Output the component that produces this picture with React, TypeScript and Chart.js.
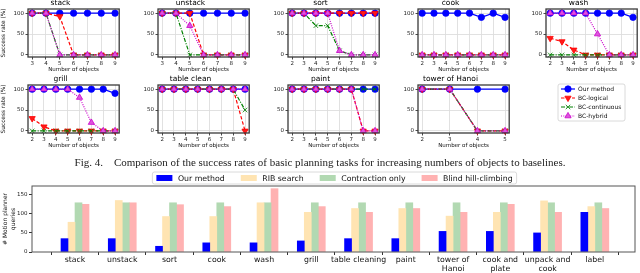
import React, { useEffect, useRef } from 'react';
import { Chart, registerables } from 'chart.js';

Chart.register(...registerables);

const FONT = "'DejaVu Sans', sans-serif";

// ---------------- line panels: success rate (%) ----------------
const seriesNames = ['Our method', 'BC-logical', 'BC-continuous', 'BC-hybrid'];
const successTicks = [0, 50, 100];

const stackObjects = [3, 4, 5, 6, 7, 8, 9];
const stackOurMethod = [100, 100, 100, 100, 100, 100, 100];
const stackBCLogical = [100, 100, 92, 0, 0, 0, 0];
const stackBCContinuous = [100, 100, 0, 0, 0, 0, 0];
const stackBCHybrid = [100, 100, 0, 0, 0, 0, 0];

const unstackObjects = [3, 4, 5, 6, 7, 8, 9];
const unstackOurMethod = [100, 100, 100, 100, 100, 100, 100];
const unstackBCLogical = [100, 100, 100, 0, 0, 0, 0];
const unstackBCContinuous = [100, 100, 0, 0, 0, 0, 0];
const unstackBCHybrid = [100, 100, 70, 0, 0, 0, 0];

const sortObjects = [2, 3, 4, 5, 6, 7, 8, 9];
const sortOurMethod = [100, 100, 100, 100, 100, 100, 100, 100];
const sortBCLogical = [100, 100, 100, 100, 100, 100, 100, 100];
const sortBCContinuous = [100, 100, 70, 70, 10, 0, 0, 0];
const sortBCHybrid = [100, 100, 100, 100, 10, 0, 0, 0];

const cookObjects = [2, 3, 4, 5, 6, 7, 8, 9];
const cookOurMethod = [100, 100, 100, 100, 100, 90, 100, 90];
const cookBCLogical = [0, 0, 0, 0, 0, 0, 0, 0];
const cookBCContinuous = [0, 0, 0, 0, 0, 0, 0, 0];
const cookBCHybrid = [0, 0, 0, 0, 0, 0, 0, 0];

const washObjects = [2, 3, 4, 5, 6, 7, 8, 9];
const washOurMethod = [100, 100, 100, 100, 100, 100, 100, 90];
const washBCLogical = [40, 32, 12, 0, 0, 0, 0, 0];
const washBCContinuous = [0, 0, 0, 0, 0, 0, 0, 0];
const washBCHybrid = [100, 100, 100, 100, 50, 0, 0, 0];

const grillObjects = [2, 3, 4, 5, 6, 7, 8, 9];
const grillOurMethod = [100, 100, 100, 100, 100, 100, 100, 90];
const grillBCLogical = [30, 10, 0, 0, 0, 0, 0, 0];
const grillBCContinuous = [0, 0, 0, 0, 0, 0, 0, 0];
const grillBCHybrid = [100, 100, 100, 100, 80, 20, 0, 0];

const tableCleanObjects = [2, 3, 4, 5, 6, 7, 8, 9];
const tableCleanOurMethod = [100, 100, 100, 100, 100, 100, 100, 100];
const tableCleanBCLogical = [100, 100, 100, 100, 100, 100, 100, 0];
const tableCleanBCContinuous = [100, 100, 100, 100, 100, 100, 100, 50];
const tableCleanBCHybrid = [100, 100, 100, 100, 100, 100, 100, 100];

const paintObjects = [2, 3, 4, 5, 6, 7, 8, 9];
const paintOurMethod = [100, 100, 100, 100, 100, 100, 100, 100];
const paintBCLogical = [100, 100, 100, 100, 100, 100, 0, 0];
const paintBCContinuous = [100, 100, 100, 100, 100, 100, 100, 100];
const paintBCHybrid = [100, 100, 100, 100, 100, 100, 0, 0];

const hanoiObjects = [2, 3, 4, 5];
const hanoiOurMethod = [100, 100, 100, 100];
const hanoiBCLogical = [100, 100, 0, 0];
const hanoiBCContinuous = [100, 100, 0, 0];
const hanoiBCHybrid = [100, 100, 0, 0];

const panels = [
  { title: 'stack', xs: stackObjects, series: [stackOurMethod, stackBCLogical, stackBCContinuous, stackBCHybrid] },
  { title: 'unstack', xs: unstackObjects, series: [unstackOurMethod, unstackBCLogical, unstackBCContinuous, unstackBCHybrid] },
  { title: 'sort', xs: sortObjects, series: [sortOurMethod, sortBCLogical, sortBCContinuous, sortBCHybrid] },
  { title: 'cook', xs: cookObjects, series: [cookOurMethod, cookBCLogical, cookBCContinuous, cookBCHybrid] },
  { title: 'wash', xs: washObjects, series: [washOurMethod, washBCLogical, washBCContinuous, washBCHybrid] },
  { title: 'grill', xs: grillObjects, series: [grillOurMethod, grillBCLogical, grillBCContinuous, grillBCHybrid] },
  { title: 'table clean', xs: tableCleanObjects, series: [tableCleanOurMethod, tableCleanBCLogical, tableCleanBCContinuous, tableCleanBCHybrid] },
  { title: 'paint', xs: paintObjects, series: [paintOurMethod, paintBCLogical, paintBCContinuous, paintBCHybrid] },
  { title: 'tower of Hanoi', xs: hanoiObjects, series: [hanoiOurMethod, hanoiBCLogical, hanoiBCContinuous, hanoiBCHybrid] },
];

// ---------------- bar chart: motion planner queries ----------------
const barCategories = ['stack', 'unstack', 'sort', 'cook', 'wash', 'grill', 'table cleaning', 'paint', 'tower of\nHanoi', 'cook and\nplate', 'unpack and\ncook', 'label'];
const barSeriesNames = ['Our method', 'RIB search', 'Contraction only', 'Blind hill-climbing'];
const ourMethodQueries = [35, 35, 15, 24, 24, 29, 35, 35, 54, 54, 50, 104];
const ribSearchQueries = [78, 135, 93, 93, 129, 104, 114, 114, 94, 104, 134, 119];
const contractionOnlyQueries = [129, 129, 129, 129, 129, 129, 129, 129, 129, 129, 129, 129];
const blindHillClimbingQueries = [125, 129, 124, 119, 166, 119, 104, 114, 104, 125, 104, 114];
const queryTicks = [0, 50, 100, 150];

// ---------------- styles ----------------
const seriesStyles = [
  { color: '#0000ff', fill: '#0000ff', dash: [] as number[], point: 'circle', rot: 0, r: 3.2 },
  { color: '#ff0000', fill: '#ff1a1a', dash: [3.5, 2], point: 'triangle', rot: 180, r: 3.6 },
  { color: '#008000', fill: '#008000', dash: [4, 1.5, 1, 1.5], point: 'crossRot', rot: 0, r: 3.2 },
  { color: '#cc00cc', fill: '#dd55dd', dash: [1, 1.3], point: 'triangle', rot: 0, r: 3.6 },
];
const barColors = ['#0000ff', '#ffe4b2', '#b2d9b2', '#ffb2b2'];

const framePlugin = {
  id: 'frame',
  afterDatasetsDraw(chart: any, _args: any, opts: any) {
    const { ctx, chartArea: a } = chart;
    ctx.save();
    ctx.strokeStyle = opts.color || '#333';
    ctx.lineWidth = opts.width || 1.3;
    ctx.strokeRect(a.left, a.top, a.right - a.left, a.bottom - a.top);
    ctx.restore();
  },
};

function roundRect(ctx: CanvasRenderingContext2D, x: number, y: number, w: number, h: number, r: number) {
  ctx.beginPath();
  ctx.moveTo(x + r, y);
  ctx.lineTo(x + w - r, y);
  ctx.quadraticCurveTo(x + w, y, x + w, y + r);
  ctx.lineTo(x + w, y + h - r);
  ctx.quadraticCurveTo(x + w, y + h, x + w - r, y + h);
  ctx.lineTo(x + r, y + h);
  ctx.quadraticCurveTo(x, y + h, x, y + h - r);
  ctx.lineTo(x, y + r);
  ctx.quadraticCurveTo(x, y, x + r, y);
  ctx.closePath();
}

function drawMarker(ctx: CanvasRenderingContext2D, s: any, x: number, y: number) {
  const r = s.r;
  ctx.beginPath();
  if (s.point === 'circle') {
    ctx.arc(x, y, r, 0, Math.PI * 2);
    ctx.fill();
    ctx.stroke();
  } else if (s.point === 'triangle') {
    let rad = (s.rot * Math.PI) / 180;
    for (let k = 0; k < 3; k++) {
      const px = x + Math.sin(rad) * r;
      const py = y - Math.cos(rad) * r;
      if (k === 0) ctx.moveTo(px, py);
      else ctx.lineTo(px, py);
      rad += (2 * Math.PI) / 3;
    }
    ctx.closePath();
    ctx.fill();
    ctx.stroke();
  } else {
    const d = r * Math.SQRT1_2;
    ctx.moveTo(x - d, y - d);
    ctx.lineTo(x + d, y + d);
    ctx.moveTo(x + d, y - d);
    ctx.lineTo(x - d, y + d);
    ctx.stroke();
  }
}

const lineLegendPlugin = {
  id: 'lineLegend',
  afterDraw(chart: any, _args: any, opts: any) {
    const { ctx } = chart;
    ctx.save();
    roundRect(ctx, opts.left, opts.top, opts.width, opts.height, 2);
    ctx.fillStyle = 'rgba(255,255,255,0.9)';
    ctx.fill();
    ctx.strokeStyle = '#d0d0d0';
    ctx.lineWidth = 0.8;
    ctx.stroke();
    ctx.font = `${opts.size}px ${FONT}`;
    ctx.textBaseline = 'middle';
    seriesNames.forEach((name, i) => {
      const s = seriesStyles[i];
      const y = opts.top + 5 + i * 9;
      const x0 = opts.left + 3;
      ctx.strokeStyle = s.color;
      ctx.lineWidth = 1.2;
      ctx.setLineDash(s.dash);
      ctx.beginPath();
      ctx.moveTo(x0, y);
      ctx.lineTo(x0 + 14, y);
      ctx.stroke();
      ctx.setLineDash([]);
      ctx.fillStyle = s.fill;
      ctx.lineWidth = 0.8;
      drawMarker(ctx, s, x0 + 7, y);
      ctx.fillStyle = '#111';
      ctx.fillText(name, x0 + 17, y + 0.5);
    });
    ctx.restore();
  },
};

const barLegendPlugin = {
  id: 'barLegend',
  afterDraw(chart: any, _args: any, opts: any) {
    const { ctx, chartArea: a } = chart;
    const ds = chart.data.datasets;
    ctx.save();
    ctx.font = `${opts.size}px ${FONT}`;
    const sw = 16, sh = 6, gap = 5.5, col = 16, pad = 4;
    const widths = ds.map((d: any) => ctx.measureText(d.label).width);
    const total = ds.length * (sw + gap) + widths.reduce((s: number, w: number) => s + w, 0) + (ds.length - 1) * col + 2 * pad;
    const cx = (a.left + a.right) / 2 + 1;
    const x0 = cx - total / 2;
    roundRect(ctx, x0, opts.top, total, opts.height, 2);
    ctx.fillStyle = 'rgba(255,255,255,0.9)';
    ctx.fill();
    ctx.strokeStyle = '#d0d0d0';
    ctx.lineWidth = 0.8;
    ctx.stroke();
    const yc = opts.top + opts.height / 2;
    let x = x0 + pad;
    ctx.textBaseline = 'middle';
    ds.forEach((d: any, i: number) => {
      ctx.fillStyle = d.backgroundColor;
      ctx.fillRect(x, yc - sh / 2, sw, sh);
      x += sw + gap;
      ctx.fillStyle = '#111';
      ctx.fillText(d.label, x, yc + 0.5);
      x += widths[i] + col;
    });
    ctx.restore();
  },
};

const PANEL_W = 124;
const PANEL_H = 77;
const colLefts = [0, 130, 260, 390, 518];
const rowTops = [-2, 74];

function LinePanel({ panel, left, top, showYTitle }: any) {
  const ref = useRef<HTMLCanvasElement>(null);
  useEffect(() => {
    const xs: number[] = panel.xs;
    const xmin = xs[0];
    const xmax = xs[xs.length - 1];
    const m = (xmax - xmin) * 0.05;
    const chart = new Chart(ref.current!, {
      type: 'line',
      data: {
        datasets: panel.series.map((vals: number[], k: number) => {
          const s = seriesStyles[k];
          return {
            label: seriesNames[k],
            data: vals.map((v, i) => ({ x: xs[i], y: v })),
            borderColor: s.color,
            backgroundColor: s.fill,
            borderDash: s.dash,
            borderWidth: 1.2,
            pointStyle: s.point,
            pointRotation: s.rot,
            pointRadius: s.r,
            pointBorderColor: s.color,
            pointBackgroundColor: s.fill,
            pointBorderWidth: 0.8,
            order: 4 - k,
            tension: 0,
            fill: false,
            clip: 2,
          };
        }),
      },
      options: {
        animation: false,
        responsive: false,
        layout: { padding: { right: 3, left: 0, top: 0, bottom: 0 } },
        plugins: {
          legend: { display: false },
          tooltip: { enabled: false },
          title: {
            display: true,
            text: panel.title,
            color: '#000',
            padding: 0,
            font: { family: FONT, size: 7.5, weight: 'normal', lineHeight: 11 / 7.5 },
          },
          frame: { color: '#3a3a3a', width: 1.3 },
        } as any,
        scales: {
          x: {
            type: 'linear',
            min: xmin - m,
            max: xmax + m,
            afterBuildTicks: (s: any) => {
              s.ticks = xs.map((v) => ({ value: v }));
            },
            afterFit: (s: any) => {
              s.height = 18;
            },
            ticks: { font: { family: FONT, size: 5.5 }, color: '#222', padding: 1, maxRotation: 0, autoSkip: false },
            grid: { color: '#dedede', lineWidth: 0.9, tickColor: '#333', tickLength: 2.5, drawTicks: true },
            border: { display: false },
            title: {
              display: true,
              text: 'Number of objects',
              color: '#111',
              font: { family: FONT, size: 5.5 },
              padding: { top: 0, bottom: 2.5 },
            },
          },
          y: {
            type: 'linear',
            min: -5,
            max: 110,
            afterBuildTicks: (s: any) => {
              s.ticks = successTicks.map((v) => ({ value: v }));
            },
            afterFit: (s: any) => {
              s.width = 28;
            },
            ticks: { font: { family: FONT, size: 5.5 }, color: '#222', padding: 1.5, autoSkip: false },
            grid: { color: '#dedede', lineWidth: 0.9, tickColor: '#333', tickLength: 2.5, drawTicks: true },
            border: { display: false },
            title: {
              display: showYTitle,
              text: 'Success rate (%)',
              color: '#111',
              font: { family: FONT, size: 5.8 },
              padding: { top: 0, bottom: 0 },
            },
          },
        },
      } as any,
      plugins: [framePlugin],
    });
    return () => chart.destroy();
  }, []);
  return (
    <canvas
      ref={ref}
      width={PANEL_W}
      height={PANEL_H}
      style={{ position: 'absolute', left, top, width: PANEL_W, height: PANEL_H }}
    />
  );
}

function LegendPanel({ left, top }: any) {
  const ref = useRef<HTMLCanvasElement>(null);
  useEffect(() => {
    const chart = new Chart(ref.current!, {
      type: 'line',
      data: {
        datasets: seriesNames.map((n, k) => ({ label: n, data: [], borderColor: seriesStyles[k].color })),
      },
      options: {
        animation: false,
        responsive: false,
        plugins: {
          legend: { display: false },
          tooltip: { enabled: false },
          lineLegend: { left: 40, top: 10, width: 67, height: 37, size: 6 },
        } as any,
        scales: { x: { display: false }, y: { display: false } },
      } as any,
      plugins: [lineLegendPlugin],
    });
    return () => chart.destroy();
  }, []);
  return (
    <canvas
      ref={ref}
      width={PANEL_W}
      height={PANEL_H}
      style={{ position: 'absolute', left, top, width: PANEL_W, height: PANEL_H }}
    />
  );
}

function BarPanel() {
  const ref = useRef<HTMLCanvasElement>(null);
  useEffect(() => {
    const allSeries = [ourMethodQueries, ribSearchQueries, contractionOnlyQueries, blindHillClimbingQueries];
    const chart = new Chart(ref.current!, {
      type: 'bar',
      data: {
        datasets: allSeries.map((vals, k) => ({
          label: barSeriesNames[k],
          data: vals.map((v, i) => ({ x: i, y: v })),
          backgroundColor: barColors[k],
          borderWidth: 0,
          barThickness: 7,
        })),
      },
      options: {
        animation: false,
        responsive: false,
        layout: { padding: { top: 16, right: 5, left: 0, bottom: 0 } },
        plugins: {
          legend: { display: false },
          tooltip: { enabled: false },
          frame: { color: '#555', width: 1 },
          barLegend: { top: 2, height: 12, size: 7.8 },
        } as any,
        scales: {
          x: {
            type: 'linear',
            min: -0.91,
            max: 11.85,
            offset: false,
            afterBuildTicks: (s: any) => {
              s.ticks = barCategories.map((_, i) => ({ value: i }));
            },
            afterFit: (s: any) => {
              s.height = 21;
            },
            ticks: {
              callback: (v: any) => {
                const lbl = barCategories[Math.round(Number(v))];
                return lbl ? lbl.split('\n') : '';
              },
              font: { family: FONT, size: 7.8, lineHeight: 1.12 },
              color: '#111',
              padding: 1,
              maxRotation: 0,
              autoSkip: false,
            },
            grid: { drawOnChartArea: false, drawTicks: true, tickLength: 3, tickColor: '#333' },
            border: { display: false },
          },
          y: {
            type: 'linear',
            min: 0,
            max: 173,
            afterBuildTicks: (s: any) => {
              s.ticks = queryTicks.map((v) => ({ value: v }));
            },
            afterFit: (s: any) => {
              s.width = 32;
            },
            ticks: { font: { family: FONT, size: 5.5 }, color: '#222', padding: 1.5, autoSkip: false },
            grid: { drawOnChartArea: false, drawTicks: true, tickLength: 3, tickColor: '#333' },
            border: { display: false },
            title: {
              display: true,
              text: ['# Motion planner', 'queries'],
              color: '#111',
              font: { family: FONT, size: 6, lineHeight: 1.3 },
              padding: { top: 1.5, bottom: 0 },
            },
          },
        },
      } as any,
      plugins: [framePlugin, barLegendPlugin],
    });
    return () => chart.destroy();
  }, []);
  return (
    <canvas
      ref={ref}
      width={640}
      height={103}
      style={{ position: 'absolute', left: 0, top: 170, width: 640, height: 103 }}
    />
  );
}

export default function App() {
  return (
    <div
      style={{
        position: 'absolute',
        left: 0,
        top: 0,
        width: 640,
        height: 273,
        overflow: 'hidden',
        background: '#fff',
      }}
    >
      {panels.map((p, i) => (
        <LinePanel
          key={p.title}
          panel={p}
          left={colLefts[i % 5]}
          top={rowTops[Math.floor(i / 5)]}
          showYTitle={i % 5 === 0}
        />
      ))}
      <LegendPanel left={colLefts[4]} top={rowTops[1]} />
      <div
        style={{
          position: 'absolute',
          left: 0,
          top: 156,
          width: 640,
          textAlign: 'center',
          fontFamily: "'Liberation Serif', 'Times New Roman', serif",
          fontSize: 11,
          lineHeight: '12px',
          color: '#222',
          whiteSpace: 'pre',
        }}
      >
        {'Fig. 4.\u2003Comparison of the success rates of basic planning tasks for increasing numbers of objects to baselines.'}
      </div>
      <BarPanel />
    </div>
  );
}
